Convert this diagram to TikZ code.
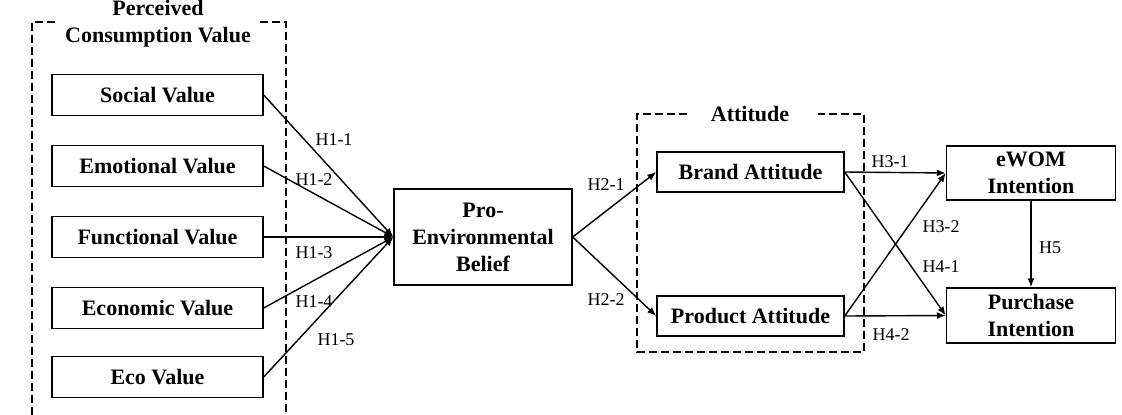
\documentclass[tikz,border=0pt]{standalone}
\usepackage{fontspec}
\setmainfont{Liberation Serif}
\usetikzlibrary{arrows.meta}

\begin{document}
\begin{tikzpicture}[x=1pt, y=-1pt,
    box/.style = {draw, line width=1.4pt, align=center, inner sep=0pt,
      font=\bfseries\fontsize{22}{27}\selectfont},
    heading/.style = {align=center, inner sep=0pt,
      font=\bfseries\fontsize{22}{27}\selectfont},
    hyp/.style = {inner sep=0pt, font=\fontsize{18}{20}\selectfont},
    group/.style = {line width=2.4pt, dash pattern=on 8pt off 4pt},
    link/.style = {line width=1.4pt, -{Latex[length=9pt,width=7pt]}}]
    \useasboundingbox (0,0) rectangle (1122,415);
    % perceived consumption value
    \draw[group] (55,22) -- (32,22) -- (32,415);
    \draw[group] (260,22) -- (286,22) -- (286,415);
    \node[heading] (pcv) at (158,24) {Perceived\\Consumption Value};
    \node[box, minimum width=211pt, minimum height=41pt] (social) at (157.5,95) {Social Value};
    \node[box, minimum width=211pt, minimum height=41pt] (emotional) at (157.5,166) {Emotional Value};
    \node[box, minimum width=211pt, minimum height=41pt] (functional) at (157.5,237) {Functional Value};
    \node[box, minimum width=211pt, minimum height=41pt] (economic) at (157.5,308) {Economic Value};
    \node[box, minimum width=211pt, minimum height=41pt] (eco) at (157.5,377) {Eco Value};
    \node[box, minimum width=178pt, minimum height=96pt] (belief) at (483,237) {Pro-\\Environmental\\Belief};
    % attitude
    \draw[group] (687,114) -- (637,114) -- (637,352) -- (864,352) -- (864,114) -- (818,114);
    \node[heading] (att) at (750,114) {Attitude};
    \node[box, minimum width=187pt, minimum height=40pt] (brand) at (750.5,172) {Brand Attitude};
    \node[box, minimum width=187pt, minimum height=40pt] (product) at (750.5,316) {Product Attitude};
    \node[box, minimum width=169pt, minimum height=54pt] (ewom) at (1031,173) {eWOM\\Intention};
    \node[box, minimum width=169pt, minimum height=55pt] (purchase) at (1031,315.5) {Purchase\\Intention};
    % paths
    \draw[link] (social.east) -- (belief.west);
    \draw[link] (emotional.east) -- (belief.west);
    \draw[link] (functional.east) -- (belief.west);
    \draw[link] (economic.east) -- (belief.west);
    \draw[link] (eco.east) -- (belief.west);
    \draw[link] (belief.east) -- (brand.west);
    \draw[link] (belief.east) -- (product.west);
    \draw[link] (brand.east) -- (ewom.west);
    \draw[link] (brand.east) -- (purchase.west);
    \draw[link] (product.east) -- (ewom.west);
    \draw[link] (product.east) -- (purchase.west);
    \draw[link] (ewom.south) -- (purchase.north);
    % hypotheses
    \node[hyp] (h11) at (334,140) {H1-1};
    \node[hyp] (h12) at (314,180) {H1-2};
    \node[hyp] (h13) at (314,253) {H1-3};
    \node[hyp] (h14) at (314,302) {H1-4};
    \node[hyp] (h15) at (336,340) {H1-5};
    \node[hyp] (h21) at (606,185) {H2-1};
    \node[hyp] (h22) at (606,300) {H2-2};
    \node[hyp] (h31) at (890,162) {H3-1};
    \node[hyp] (h32) at (941,227) {H3-2};
    \node[hyp] (h41) at (941,267) {H4-1};
    \node[hyp] (h42) at (891,335) {H4-2};
    \node[hyp] (h5) at (1050,248) {H5};
\end{tikzpicture}
\end{document}
